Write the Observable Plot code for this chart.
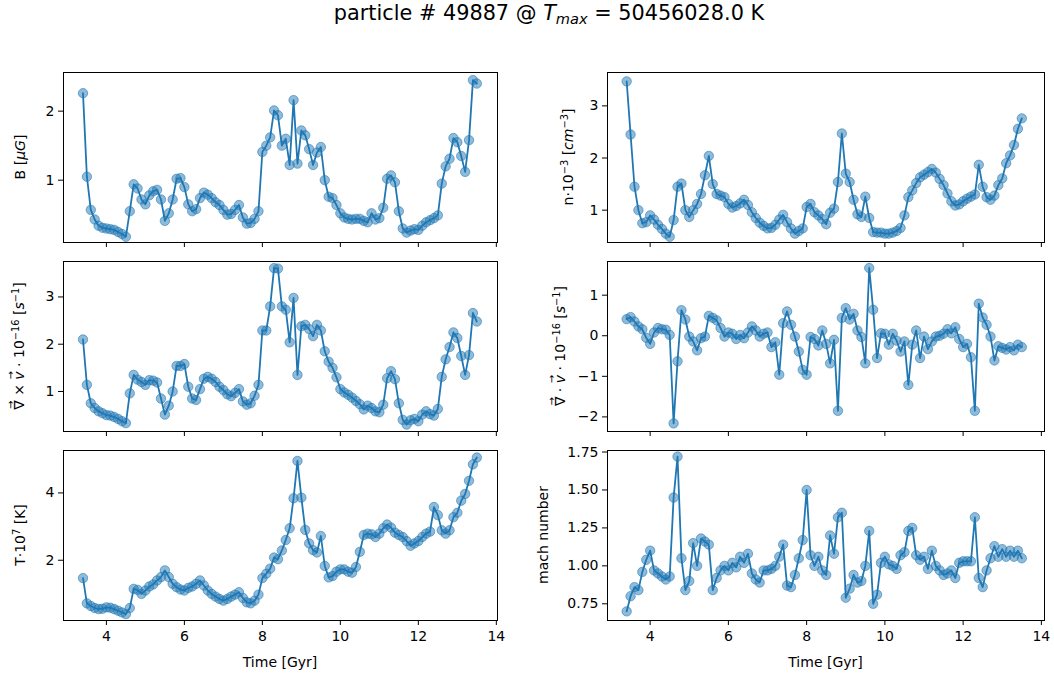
<!DOCTYPE html>
<html><head><meta charset="utf-8">
<script src="https://cdn.jsdelivr.net/npm/d3@7"></script>
<script src="https://cdn.jsdelivr.net/npm/@observablehq/plot@0.6"></script>
<style>
body{margin:0;background:#fff;font-family:"DejaVu Sans",sans-serif;color:#000;}
#fig{position:relative;width:1054px;height:681px;overflow:hidden;background:#fff;}
.panel{position:absolute;}
.ylab{position:absolute;white-space:nowrap;font-size:14px;transform:translate(-50%,-50%) rotate(-90deg);line-height:1.2;}
.xlab{position:absolute;font-size:14px;transform:translate(-50%,-50%);white-space:nowrap;}
#title{position:absolute;left:549px;top:13px;transform:translate(-50%,-50%);font-size:20.8px;white-space:nowrap;}
sup{font-size:70%;vertical-align:0.45em;line-height:0;}
sub{font-size:70%;vertical-align:-0.25em;line-height:0;}
.vec{position:relative;display:inline-block;}
.arr{position:absolute;left:50%;top:-0.62em;transform:translateX(-50%);font-size:0.7em;font-style:normal;}
</style></head>
<body><div id="fig"></div>
<script>
// ---- data ----
const time = [3.4,3.5,3.6,3.7,3.8,3.9,4.0,4.1,4.2,4.3,4.4,4.5,4.6,4.7,4.8,4.9,5.0,5.1,5.2,5.3,5.4,5.5,5.6,5.7,5.8,5.9,6.0,6.1,6.2,6.3,6.4,6.5,6.6,6.7,6.8,6.9,7.0,7.1,7.2,7.3,7.4,7.5,7.6,7.7,7.8,7.9,8.0,8.1,8.2,8.3,8.4,8.5,8.6,8.7,8.8,8.9,9.0,9.1,9.2,9.3,9.4,9.5,9.6,9.7,9.8,9.9,10.0,10.1,10.2,10.3,10.4,10.5,10.6,10.7,10.8,10.9,11.0,11.1,11.2,11.3,11.4,11.5,11.6,11.7,11.8,11.9,12.0,12.1,12.2,12.3,12.4,12.5,12.6,12.7,12.8,12.9,13.0,13.1,13.2,13.3,13.4,13.5];

const magneticField = [2.26,1.05,0.57,0.43,0.34,0.31,0.30,0.29,0.28,0.25,
 0.22,0.18,0.55,0.94,0.88,0.72,0.65,0.78,0.84,0.86,
 0.72,0.41,0.52,0.72,1.02,1.03,0.90,0.65,0.55,0.58,
 0.74,0.82,0.79,0.74,0.68,0.64,0.57,0.50,0.51,0.57,
 0.64,0.46,0.37,0.38,0.44,0.55,1.41,1.50,1.62,2.01,
 1.94,1.50,1.60,1.22,2.16,1.24,1.72,1.65,1.45,1.22,
 1.40,1.48,1.00,0.76,0.74,0.64,0.52,0.46,0.44,0.43,
 0.44,0.44,0.41,0.39,0.52,0.43,0.45,0.60,1.02,1.07,
 0.97,0.55,0.30,0.24,0.27,0.29,0.28,0.34,0.39,0.42,
 0.45,0.49,0.95,1.20,1.31,1.61,1.55,1.35,1.12,1.58,
 2.45,2.40];

const density = [3.47,2.45,1.45,1.00,0.75,0.77,0.90,0.82,0.72,0.64,
 0.55,0.49,0.81,1.45,1.51,1.00,0.87,1.00,1.12,1.31,
 1.67,2.04,1.50,1.31,1.28,1.25,1.12,1.05,1.08,1.13,
 1.20,1.10,0.96,0.85,0.76,0.70,0.65,0.66,0.72,0.82,
 0.91,0.77,0.65,0.55,0.60,0.65,1.06,1.12,0.96,0.90,
 0.83,0.73,0.95,1.03,1.54,2.47,1.70,1.54,1.20,0.92,
 0.87,1.26,0.85,0.58,0.57,0.57,0.55,0.55,0.57,0.60,
 0.66,0.90,1.25,1.38,1.52,1.63,1.68,1.73,1.79,1.72,
 1.60,1.48,1.32,1.17,1.09,1.11,1.17,1.22,1.26,1.30,
 1.87,1.45,1.25,1.20,1.28,1.48,1.61,1.90,2.05,2.25,
 2.56,2.76];

const vorticity = [2.10,1.14,0.75,0.65,0.58,0.54,0.50,0.49,0.46,0.42,
 0.37,0.33,0.96,1.35,1.25,1.20,1.14,1.24,1.23,1.19,
 0.85,0.51,0.70,1.00,1.54,1.54,1.58,1.10,0.85,0.82,
 1.05,1.27,1.31,1.27,1.20,1.10,1.03,0.94,0.90,0.97,
 1.05,0.79,0.72,0.75,0.91,1.14,2.29,2.29,2.80,3.61,
 3.60,2.80,2.73,2.04,2.98,1.35,2.38,2.41,2.32,2.17,
 2.41,2.29,1.85,1.63,1.50,1.30,1.05,0.98,0.93,0.87,
 0.80,0.73,0.62,0.70,0.65,0.58,0.56,0.72,1.28,1.43,
 1.26,0.75,0.40,0.30,0.39,0.42,0.37,0.51,0.58,0.52,
 0.49,0.63,1.31,1.68,1.94,2.25,2.13,1.75,1.35,1.77,
 2.66,2.48];

const divergence = [0.41,0.46,0.35,0.23,0.16,-0.05,-0.20,0.08,0.19,0.16,
 0.15,0.02,-2.16,-0.63,0.63,0.40,-0.02,-0.14,-0.36,-0.06,
 -0.02,0.49,0.44,0.38,0.19,-0.02,0.08,0.05,-0.08,0.02,
 -0.06,0.08,0.23,0.13,-0.02,0.05,0.08,-0.28,-0.16,-0.96,
 0.31,0.60,0.27,-0.02,-0.39,-0.84,-0.96,-0.03,-0.08,-0.24,
 0.13,-0.20,-0.68,-0.10,-1.85,0.44,0.68,0.40,0.54,0.13,
 -0.03,-0.68,1.67,0.64,-0.55,0.06,0.05,-0.22,0.05,-0.12,
 -0.39,-0.14,-1.21,-0.22,0.13,-0.55,-0.02,-0.33,-0.14,-0.02,
 0.00,0.05,0.16,0.06,0.21,-0.08,-0.28,-0.20,-0.53,-1.85,
 0.79,0.45,0.27,-0.02,-0.61,-0.26,-0.30,-0.34,-0.28,-0.36,
 -0.22,-0.28];

const temperature = [1.47,0.72,0.64,0.58,0.55,0.56,0.60,0.59,0.55,0.50,
 0.45,0.40,0.58,1.15,1.12,1.00,1.10,1.22,1.28,1.40,
 1.50,1.70,1.50,1.30,1.20,1.13,1.10,1.18,1.22,1.30,
 1.40,1.25,1.10,1.00,0.92,0.85,0.80,0.85,0.92,0.98,
 1.05,0.88,0.75,0.72,0.80,0.98,1.47,1.60,1.75,2.08,
 2.03,2.29,2.60,2.95,3.84,4.95,3.86,2.90,2.50,2.30,
 2.23,2.72,1.83,1.49,1.53,1.66,1.73,1.73,1.66,1.63,
 1.80,2.25,2.75,2.79,2.77,2.69,2.79,2.95,3.06,2.97,
 2.82,2.75,2.69,2.57,2.43,2.50,2.57,2.69,2.79,2.85,
 3.58,3.34,2.89,2.79,2.89,3.28,3.41,3.77,3.97,4.36,
 4.85,5.05];

const mach = [0.70,0.80,0.86,0.84,0.96,1.04,1.10,0.97,0.95,0.93,
 0.91,0.93,1.45,1.72,1.05,0.84,0.90,1.15,1.00,1.18,
 1.16,1.14,0.84,0.92,0.97,1.00,0.97,1.02,0.99,1.06,
 1.02,1.08,0.95,0.91,0.89,0.97,0.97,0.98,1.00,1.06,
 1.14,0.87,0.86,0.94,1.05,1.17,1.50,1.07,1.00,1.06,
 0.97,0.94,1.20,1.08,1.32,1.35,0.79,0.85,0.94,0.89,
 0.90,1.00,1.23,0.75,0.81,1.02,1.06,1.01,1.00,0.98,
 1.07,1.09,1.23,1.25,1.07,1.04,1.06,0.98,1.10,1.00,
 0.97,0.94,0.95,0.97,0.92,1.02,1.03,1.03,1.03,1.32,
 0.92,0.86,0.97,1.05,1.13,1.06,1.11,1.06,1.10,1.06,
 1.10,1.05];

const xTicks = [4, 6, 8, 10, 12, 14];
const ticksB = [1, 2];
const ticksN = [1, 2, 3];
const ticksCurl = [1, 2, 3];
const ticksDiv = [-2, -1, 0, 1];
const ticksT = [2, 4];
const ticksMach = [0.75, 1.00, 1.25, 1.50, 1.75];

const titleText = 'particle # 49887 @ <i>T</i><sub><i>max</i></sub> = 50456028.0 K';
const xLabelText = 'Time [Gyr]';
const nablaVec = '<span class="vec">∇<span class="arr">→</span></span>';
const vVec = '<span class="vec"><i>v</i><span class="arr">→</span></span>';

// ---- layout ----
const fig = document.getElementById('fig');
const colFrameX = [63, 607];
const colFrameW = [434, 437];
const colDomain = [[2.90, 14.03], [2.91, 14.08]];
const colMargin = [30, 50];
const rowFrameY = [72, 261, 450];
const frameH = 170;
const blue = '#1f77b4';
const minus = d => (d < 0 ? '\u2212' + Math.abs(d) : String(d));

const panels = [
  {values: magneticField, col: 0, row: 0, y: [0.097, 2.56], ticks: ticksB, fmt: minus,
   label: 'B [<i>μG</i>]', lx: 20},
  {values: density, col: 1, row: 0, y: [0.38, 3.64], ticks: ticksN, fmt: minus,
   label: 'n·10<sup>−3</sup> [<i>cm</i><sup>−3</sup>]', lx: 568},
  {values: vorticity, col: 0, row: 1, y: [0.153, 3.75], ticks: ticksCurl, fmt: minus,
   label: nablaVec + ' × ' + vVec + ' · 10<sup>−16</sup> [<i>s</i><sup>−1</sup>]', lx: 19},
  {values: divergence, col: 1, row: 1, y: [-2.36, 1.83], ticks: ticksDiv, fmt: minus,
   label: nablaVec + ' · ' + vVec + ' · 10<sup>−16</sup> [<i>s</i><sup>−1</sup>]', lx: 560},
  {values: temperature, col: 0, row: 2, y: [0.21, 5.26], ticks: ticksT, fmt: minus,
   label: 'T·10<sup>7</sup> [K]', lx: 20},
  {values: mach, col: 1, row: 2, y: [0.64, 1.76], ticks: ticksMach, fmt: d => d.toFixed(2),
   label: 'mach number', lx: 543}
];

for (const p of panels) {
  const data = time.map((t, i) => ({t, v: p.values[i]}));
  const ml = colMargin[p.col], mr = 10, mt = 5, mb = p.row === 2 ? 30 : 6;
  const fw = colFrameW[p.col];
  const bottom = p.row === 2;
  const chart = Plot.plot({
    width: ml + fw + mr,
    height: mt + frameH + mb,
    marginLeft: ml, marginRight: mr, marginTop: mt, marginBottom: mb,
    style: {fontFamily: '"DejaVu Sans", sans-serif', fontSize: '14px', background: 'transparent', overflow: 'visible', color: '#000'},
    x: {domain: colDomain[p.col], label: null},
    y: {domain: p.y, label: null},
    marks: [
      Plot.line(data, {x: 't', y: 'v', stroke: blue, strokeWidth: 1.8}),
      Plot.dot(data, {x: 't', y: 'v', r: 4.7, fill: blue, fillOpacity: 0.5, stroke: blue, strokeOpacity: 0.55, strokeWidth: 1}),
      Plot.frame({stroke: '#000', strokeWidth: 1}),
      Plot.axisY({ticks: p.ticks, tickSize: 5, tickPadding: 4, tickFormat: p.fmt, label: null}),
      Plot.axisX({ticks: xTicks, tickSize: 5, tickPadding: 6, tickFormat: bottom ? (d => String(d)) : (() => ''), label: null})
    ]
  });
  const wrap = document.createElement('div');
  wrap.className = 'panel';
  wrap.style.left = (colFrameX[p.col] - ml) + 'px';
  wrap.style.top = (rowFrameY[p.row] - mt) + 'px';
  wrap.appendChild(chart);
  fig.appendChild(wrap);

  const yl = document.createElement('div');
  yl.className = 'ylab';
  yl.innerHTML = p.label;
  yl.style.left = p.lx + 'px';
  yl.style.top = (rowFrameY[p.row] + frameH / 2) + 'px';
  fig.appendChild(yl);
}

for (let c = 0; c < 2; c++) {
  const xl = document.createElement('div');
  xl.className = 'xlab';
  xl.textContent = xLabelText;
  xl.style.left = (colFrameX[c] + colFrameW[c] / 2) + 'px';
  xl.style.top = '662px';
  fig.appendChild(xl);
}

const title = document.createElement('div');
title.id = 'title';
title.innerHTML = titleText;
fig.appendChild(title);
</script>
</body></html>
